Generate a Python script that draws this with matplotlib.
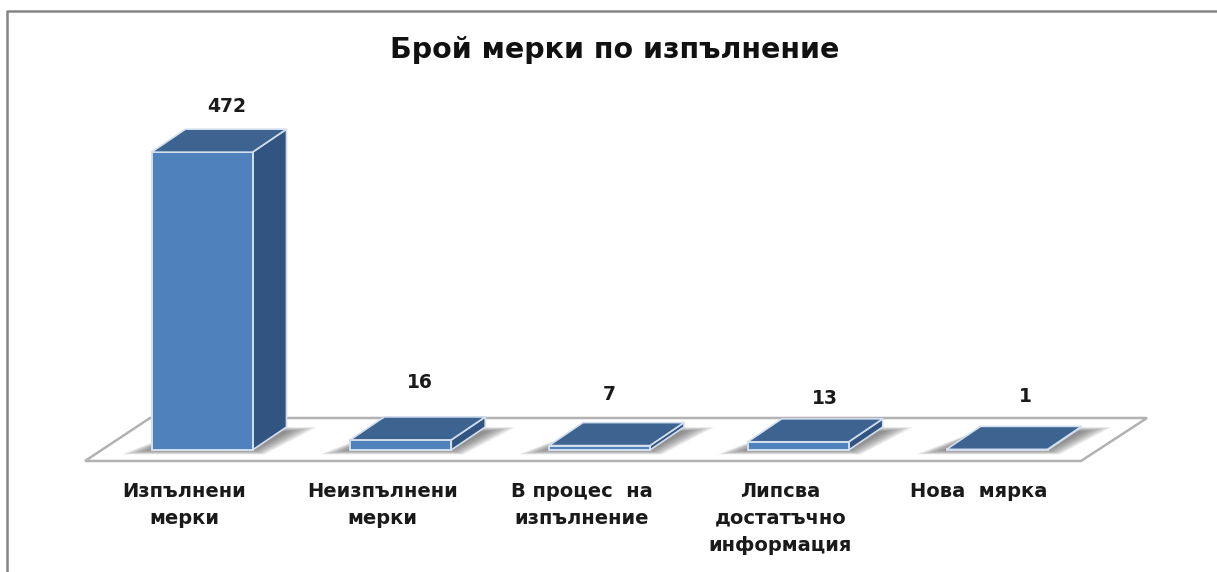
import matplotlib
matplotlib.use('Agg')
import matplotlib.pyplot as plt
from matplotlib.patches import Polygon

title = 'Брой мерки по изпълнение'
categories = ['Изпълнени\nмерки', 'Неизпълнени\nмерки', 'В процес  на\nизпълнение',
              'Липсва\nдостатъчно\nинформация', 'Нова  мярка']
values = [472, 16, 7, 13, 1]

# value labels sit off to the right of each bar, offsets
label_dx = [25, 19, 10, 27, 28]
label_py = [107, 382, 395, 398, 396]

W, H = 1217, 572
X0, STEP = 202, 198.75   # pixel centre of first bar, spacing
Y0, SCALE = 450, 0.631   # baseline pixel, pixels per unit

FRONT = '#4f81bd'
TOP = '#3d6391'
SIDE = '#325480'
EDGE = '#d3dfee'
TEXT = '#1a1a1a'


def px(x, y):
    return (x - X0) / STEP, (Y0 - y) / SCALE


fig = plt.figure(figsize=(W / 100, H / 100), dpi=100)
ax = fig.add_axes([0, 0, 1, 1])
ax.set_xlim(px(0, 0)[0], px(W, 0)[0])
ax.set_ylim(px(0, H)[1], px(0, 0)[1])
ax.axis('off')

depth_x = 34 / STEP
depth_y = 23 / SCALE
width = 101 / STEP

# outer frame
ax.plot(*zip(px(7, H), px(7, 11), px(W, 11)), color='#858585', lw=1.8, zorder=1)

# floor
floor = [px(85, 461), px(1081, 461), px(1147, 418), px(150, 418)]
ax.add_patch(Polygon(floor, closed=True, fc='white', ec='#b2b2b2', lw=1.8, zorder=2))

xs = list(range(len(values)))

# soft shadow on the floor, stacked translucent layers
for x in xs:
    for g in range(14, 0, -1):
        gx = g * 2.2 / STEP
        gy = g * 0.32 / SCALE
        left = x - width / 2
        right = x + width / 2
        shadow = [(left - gx, -gy), (right + gx * 0.4, -gy),
                  (right + depth_x + gx, depth_y * 0.8 + gy),
                  (left + depth_x + gx * 0.2, depth_y * 0.8 + gy)]
        ax.add_patch(Polygon(shadow, closed=True, fc='#555555', ec='none',
                             alpha=0.065, zorder=3))

ax.bar(xs, values, width=width, color=FRONT, edgecolor=EDGE, linewidth=1.4, zorder=5)

for x, v in zip(xs, values):
    left = x - width / 2
    right = x + width / 2
    top = [(left, v), (right, v), (right + depth_x, v + depth_y), (left + depth_x, v + depth_y)]
    side = [(right, 0), (right + depth_x, depth_y), (right + depth_x, v + depth_y), (right, v)]
    ax.add_patch(Polygon(side, closed=True, fc=SIDE, ec=EDGE, lw=1.2, zorder=4))
    ax.add_patch(Polygon(top, closed=True, fc=TOP, ec=EDGE, lw=1.2, zorder=6))

for x, v, dx, py in zip(xs, values, label_dx, label_py):
    ax.text(x + dx / STEP, px(0, py)[1], str(v), ha='center', va='center',
            fontsize=13.5, fontweight='bold', color=TEXT, zorder=7)

# category labels, centred a bit left of the bars
for x, name in zip(xs, categories):
    ax.text(x - 18 / STEP, px(0, 482)[1], name, ha='center', va='top', fontsize=14,
            fontweight='bold', color=TEXT, linespacing=1.52, zorder=7)

ax.text(*px(615, 50), title, ha='center', va='center', fontsize=20.5,
        fontweight='bold', color='#111111', zorder=7)

fig.savefig('out.png', dpi=100)
